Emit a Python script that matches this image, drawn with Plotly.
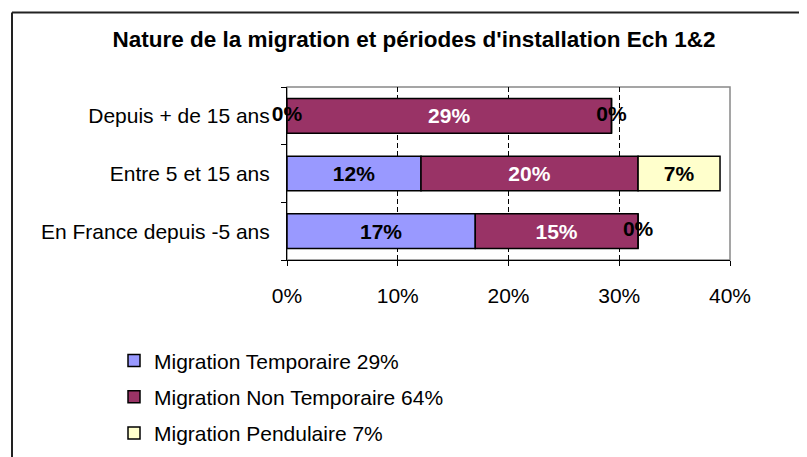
import plotly.graph_objects as go

categories = ["En France depuis -5 ans", "Entre 5 et 15 ans", "Depuis + de 15 ans"]
temporaire = [17.0, 12.1, 0.0]
non_temporaire = [14.7, 19.6, 29.3]
pendulaire = [0.0, 7.4, 0.0]
series_names = ["Migration Temporaire 29%", "Migration Non Temporaire 64%", "Migration Pendulaire 7%"]
x_ticks = [0, 10, 20, 30, 40]
x_tick_text = [f"{v}%" for v in x_ticks]

colors = ["#9999FF", "#993366", "#FFFFCC"]
label_colors = ["black", "white", "black"]
FONT = "Liberation Sans, Arial, sans-serif"

fig = go.Figure()
series = [temporaire, non_temporaire, pendulaire]
base = [0.0] * len(categories)
zero_x, zero_y, zero_t = [], [], []
for i, (name, vals) in enumerate(zip(series_names, series)):
    texts = [f"{round(v)}%" if v > 0 else "" for v in vals]
    fig.add_trace(go.Bar(
        y=categories, x=vals, base=base, orientation="h", name=name,
        marker=dict(color=colors[i], line=dict(color="black", width=1.5)),
        text=texts, textposition="inside", insidetextanchor="middle",
        constraintext="none",
        textfont=dict(family=FONT, size=21, color=label_colors[i], weight="bold"),
        legendgroup=f"g{i}",
    ))
    for c, b, v in zip(categories, base, vals):
        if v == 0:
            zero_x.append(b)
            zero_y.append(c)
            zero_t.append("0%")
    base = [b + v for b, v in zip(base, vals)]

fig.add_trace(go.Scatter(
    x=zero_x, y=zero_y, text=zero_t, mode="text", showlegend=False,
    textfont=dict(family=FONT, size=21, color="black", weight="bold"),
    cliponaxis=False, hoverinfo="skip",
))

OFF = 8  # default page body margin
W, H = 807, 457
L, R, T, B = 287 - OFF, 807 - 730 + OFF, 87 - OFF, 457 - 268 + OFF
pw, ph = W - L - R, H - T - B

def px_x(px):
    return (px - OFF - L) / pw

def px_y(py):
    return (H - B - (py - OFF)) / ph

fig.update_layout(
    width=W, height=H,
    margin=dict(l=L, r=R, t=T, b=B, pad=0),
    paper_bgcolor="white", plot_bgcolor="white",
    barmode="overlay", bargap=0.4,
    font=dict(family=FONT, size=21, color="black"),
    title=dict(text="<b>Nature de la migration et périodes d'installation Ech 1&2</b>",
               xref="paper", x=px_x(414), xanchor="center",
               yref="container", y=1 - (39 - OFF) / H, yanchor="middle",
               font=dict(family=FONT, size=22.5, color="black")),
    xaxis=dict(range=[0, 40], tickvals=x_ticks, ticktext=x_tick_text, automargin=False,
               showgrid=True, gridcolor="black", griddash="5px,3px", gridwidth=1,
               zeroline=False, showline=True, linecolor="black", linewidth=1,
               ticks="outside", ticklen=5, tickcolor="black",
               ticklabelstandoff=12, tickfont=dict(size=21)),
    yaxis=dict(type="category", categoryorder="array", categoryarray=categories,
               automargin=False,
               showgrid=False, zeroline=False, showline=True, linecolor="black", linewidth=1,
               ticks="outside", ticklen=5, tickcolor="black", tickson="boundaries",
               ticklabelstandoff=12, tickfont=dict(size=21)),
    legend=dict(x=px_x(114), xanchor="left", y=px_y(352), yanchor="top",
                tracegroupgap=6, font=dict(family=FONT, size=21, color="black"),
                bgcolor="rgba(0,0,0,0)", itemclick=False),
    showlegend=True,
    shapes=[
        dict(type="rect", xref="paper", yref="paper", x0=0, x1=1, y0=0, y1=1,
             line=dict(color="#888888", width=1.5), layer="below"),
        dict(type="line", xref="paper", yref="paper", x0=px_x(12), x1=px_x(12),
             y0=px_y(9), y1=px_y(H + 20), line=dict(color="#222222", width=2)),
        dict(type="line", xref="paper", yref="paper", x0=px_x(12), x1=px_x(W + 20),
             y0=px_y(9), y1=px_y(9), line=dict(color="#222222", width=2)),
    ],
)

fig.write_html("out.html")
